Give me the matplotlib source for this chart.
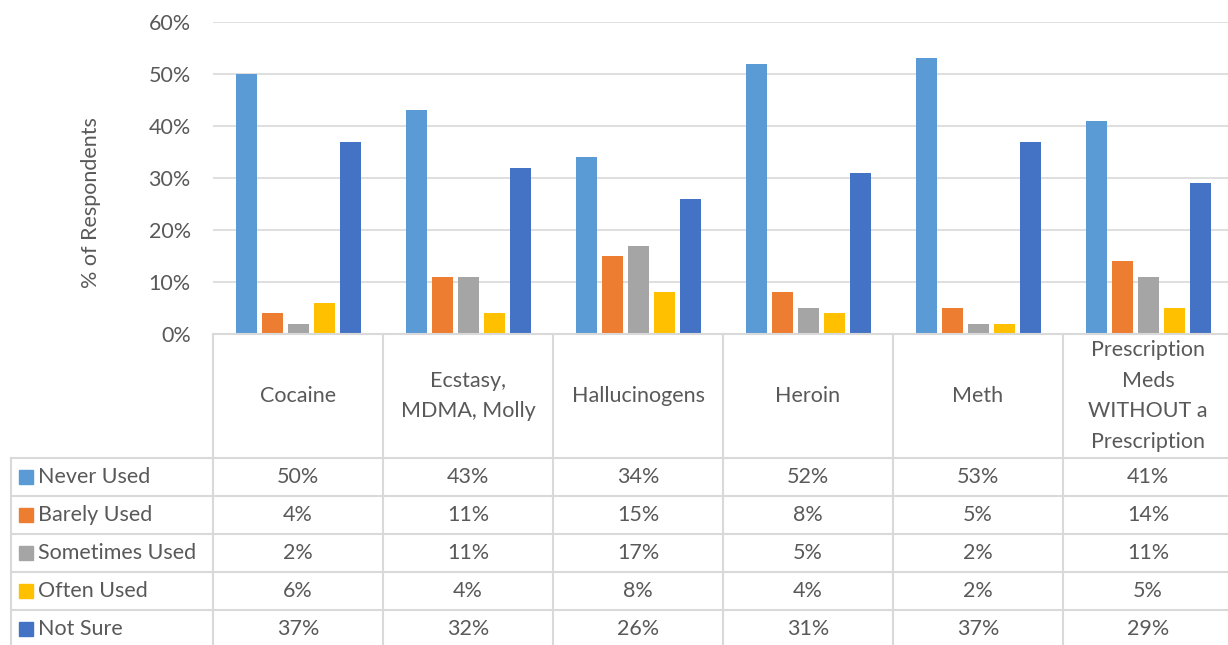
import matplotlib
matplotlib.use("Agg")
import matplotlib.pyplot as plt
from matplotlib.patches import Rectangle
import numpy as np

plt.rcParams['font.family'] = ['Lato', 'DejaVu Sans']

categories = ["Cocaine", "Ecstasy,\nMDMA, Molly", "Hallucinogens", "Heroin", "Meth",
              "Prescription\nMeds\nWITHOUT a\nPrescription"]
series_names = ["Never Used", "Barely Used", "Sometimes Used", "Often Used", "Not Sure"]
never_used = [50, 43, 34, 52, 53, 41]
barely_used = [4, 11, 15, 8, 5, 14]
sometimes_used = [2, 11, 17, 5, 2, 11]
often_used = [6, 4, 8, 4, 2, 5]
not_sure = [37, 32, 26, 31, 37, 29]
series = [never_used, barely_used, sometimes_used, often_used, not_sure]
colors = ["#5B9BD5", "#ED7D31", "#A5A5A5", "#FFC000", "#4472C4"]
yticks = [0, 10, 20, 30, 40, 50, 60]

W, H = 1228, 645
fig = plt.figure(figsize=(W / 100, H / 100), dpi=100)
txt = "#595959"
grid = "#D9D9D9"
fs = 15.5

# plot area in pixels
x0, x1 = 213, 1233
ytop, ybot = 22, 334
ax = fig.add_axes([x0 / W, 1 - ybot / H, (x1 - x0) / W, (ybot - ytop) / H])
n = len(categories)
x = np.arange(n)
bw = 21 / 170
step = 26 / 170
for i, (vals, c) in enumerate(zip(series, colors)):
    ax.bar(x + (i - 2) * step, vals, width=bw, color=c, zorder=3)
ax.set_xlim(-0.5, n - 0.5)
ax.set_ylim(0, 60)
ax.set_yticks(yticks)
ax.set_yticklabels([f"{v}%" for v in yticks], fontsize=fs, color=txt)
ax.tick_params(axis='y', length=0, pad=16)
ax.set_xticks([])
for s in ax.spines.values():
    s.set_visible(False)
ax.yaxis.grid(True, color=grid, linewidth=1.2, zorder=0)
ax.set_ylabel("% of Respondents", fontsize=fs, color=txt)
ax.yaxis.set_label_coords(-112 / (x1 - x0), 0.42)

# table overlay axes in pixel coordinates
tab = fig.add_axes([0, 0, 1, 1])
tab.set_xlim(0, W)
tab.set_ylim(H, 0)
tab.axis('off')
colw = 170
lw = 1.5
row_tops = [458, 496, 534, 572, 610]
rowh = 38
tab.plot([x0, x1], [ybot, ybot], color=grid, lw=lw)
for k in range(n + 1):
    tab.plot([x0 + k * colw] * 2, [ybot, H + 5], color=grid, lw=lw)
tab.plot([11, 11], [row_tops[0], H + 5], color=grid, lw=lw)
for yt in row_tops:
    tab.plot([11, x1], [yt, yt], color=grid, lw=lw)
for k, cat in enumerate(categories):
    tab.text(x0 + (k + 0.5) * colw, 396, cat, ha='center', va='center',
             fontsize=fs, color=txt, linespacing=1.65)
for r, (name, vals, c) in enumerate(zip(series_names, series, colors)):
    yc = row_tops[r] + rowh / 2
    tab.add_patch(Rectangle((19, yc - 7), 14, 14, color=c))
    tab.text(38, yc, name, ha='left', va='center', fontsize=fs, color=txt)
    for k, v in enumerate(vals):
        tab.text(x0 + (k + 0.5) * colw, yc, f"{v}%", ha='center', va='center',
                 fontsize=fs, color=txt)

fig.savefig("out.png", dpi=100)
